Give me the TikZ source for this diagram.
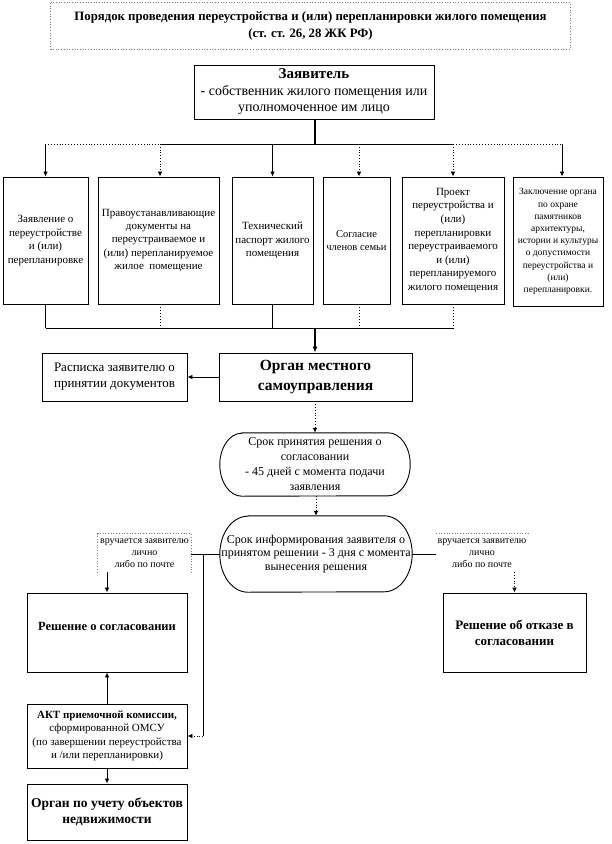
\documentclass[tikz,border=0pt]{standalone}
\usepackage{fontspec}
\setmainfont{Liberation Serif}
\usetikzlibrary{arrows.meta}
\newcommand{\fsz}[2]{\fontsize{#1}{#2}\selectfont}
\begin{document}
\begin{tikzpicture}[x=1pt,y=-1pt,
  box/.style={draw, line width=0.9pt, inner sep=0pt, align=center},
  plain/.style={inner sep=0pt, align=center},
  arr/.style={-{Latex[length=5pt,width=4.5pt]}, line width=0.8pt},
  thickarr/.style={-{Latex[length=6pt,width=5pt]}, line width=2pt},
  dotline/.style={dotted, line width=0.9pt},
  grayframe/.style={dotted, line width=0.7pt, draw=gray},
  lnk/.style={line width=0.8pt}
]
\useasboundingbox (0,0) rectangle (612,844);

% title
\node[plain, minimum width=519pt, minimum height=46pt, font=\fsz{12.8}{17}\bfseries] (title) at (310.5,26)
  {Порядок проведения переустройства и (или) перепланировки жилого помещения\\(ст. ст. 26, 28 ЖК РФ)};
\draw[grayframe] (title.north west) rectangle (title.south east);

% applicant
\node[box, minimum width=240pt, minimum height=54pt, font=\fsz{14}{16.5}] (zayav) at (314,92)
  {{\fsz{15}{16.5}\bfseries Заявитель}\\- собственник жилого помещения или\\уполномоченное им лицо};

% documents
\node[box, minimum width=85pt, minimum height=127pt, font=\fsz{11}{13.5}] (b1) at (45.5,240.5)
  {Заявление о\\переустройстве\\и (или)\\перепланировке};
\node[box, minimum width=121pt, minimum height=127pt, font=\fsz{11}{13.2}] (b2) at (158.5,240.5)
  {Правоустанавливающие\\документы на\\переустраиваемое и\\(или) перепланируемое\\жилое\ \ помещение};
\node[box, minimum width=81pt, minimum height=127pt, font=\fsz{11}{13.5}] (b3) at (272.5,240.5)
  {Технический\\паспорт жилого\\помещения};
\node[box, minimum width=67pt, minimum height=127pt, font=\fsz{10.5}{13.5}] (b4) at (356.5,240.5)
  {Согласие\\членов семьи};
\node[box, minimum width=102pt, minimum height=127pt, font=\fsz{11}{13.6}] (b5) at (453,240.5)
  {Проект\\переустройства и\\(или)\\перепланировки\\переустраиваемого\\и (или)\\перепланируемого\\жилого помещения};
\node[box, minimum width=90pt, minimum height=129pt, font=\fsz{9.5}{12.2}] (b6) at (558,241.5)
  {Заключение органа\\по охране\\памятников\\архитектуры,\\истории и культуры\\о допустимости\\переустройства и\\(или)\\перепланировки.};

% upper bus
\coordinate (top) at (315,144);
\draw[line width=2pt] (zayav.south -| top) -- (top);
\draw[dotline] (45,144) -- (160,144);
\draw[lnk] (160,144) -- (453,144);
\draw[dotline] (453,144) -- (562,144);
\draw[arr] (b1.north |- top) -- (b1.north);
\draw[arr, dotted] ([xshift=1.5pt]b2.north |- top) -- ([xshift=1.5pt]b2.north);
\draw[arr] (b3.north |- top) -- (b3.north);
\draw[arr, dotted] ([xshift=2.5pt]b4.north |- top) -- ([xshift=2.5pt]b4.north);
\draw[arr, dotted] (b5.north |- top) -- (b5.north);
\draw[arr] ([xshift=4pt]b6.north |- top) -- ([xshift=4pt]b6.north);

% lower bus
\coordinate (bot) at (315,328);
\draw[lnk] (b1.south) -- (b1.south |- bot);
\draw[dotline] ([xshift=1.5pt]b2.south) -- ([xshift=1.5pt]b2.south |- bot);
\draw[lnk] (b3.south) -- (b3.south |- bot);
\draw[dotline] ([xshift=2.5pt]b4.south) -- ([xshift=2.5pt]b4.south |- bot);
\draw[dotline] (b5.south) -- (b5.south |- bot);
\draw[lnk] (b1.south |- bot) -- (b5.south |- bot);

% local authority
\node[box, minimum width=193pt, minimum height=48pt, font=\fsz{15.5}{20}\bfseries] (organ) at (315.5,377)
  {Орган местного\\самоуправления};
\draw[thickarr] (bot) -- (organ.north -| bot);
\node[box, minimum width=145pt, minimum height=48pt, font=\fsz{13}{16}] (rasp) at (114.5,377)
  {Расписка заявителю о\\принятии документов};
\draw[arr] (organ.west) -- (rasp.east);

% term 1
\node[plain, minimum width=190pt, minimum height=63pt, font=\fsz{12}{15}] (s1) at (315,464.5)
  {Срок принятия решения о\\согласовании\\- 45 дней с момента подачи\\заявления};
\draw[line width=0.9pt] ([xshift=22pt]s1.north west) -- ([xshift=-22pt]s1.north east)
  arc[start angle=90, end angle=-90, x radius=22pt, y radius=31.5pt]
  -- ([xshift=22pt]s1.south west)
  arc[start angle=270, end angle=90, x radius=22pt, y radius=31.5pt] -- cycle;
\draw[arr, dotted] (organ.south -| s1.north) -- (s1.north);

% term 2
\node[plain, minimum width=192pt, minimum height=76pt, font=\fsz{12}{13.8}] (s2) at (316,554)
  {Срок информирования заявителя о\\принятом решении - 3 дня с момента\\вынесения решения};
\draw[line width=0.9pt] ([xshift=28pt]s2.north west) -- ([xshift=-28pt]s2.north east)
  arc[start angle=90, end angle=-90, x radius=28pt, y radius=38pt]
  -- ([xshift=28pt]s2.south west)
  arc[start angle=270, end angle=90, x radius=28pt, y radius=38pt] -- cycle;
\draw[arr, dotted] (s1.south -| s2.north) -- (s2.north);

% delivery labels
\node[plain, minimum width=93pt, minimum height=38pt, font=\fsz{10}{12}] (lblL) at (144.5,553)
  {вручается заявителю\\лично\\либо по почте};
\draw[grayframe] (lblL.south west) -- (lblL.north west) -- (lblL.north east) -- (lblL.south east);
\node[plain, minimum width=92pt, minimum height=38pt, font=\fsz{10}{12}] (lblR) at (482,553)
  {вручается заявителю\\лично\\либо по почте};
\draw[grayframe] (lblR.north west) -- (lblR.north east);

\draw[lnk] (s2.west) -- (lblL.east |- s2.west);
\draw[lnk] (s2.east) -- (lblR.west |- s2.east);

% decisions
\node[box, minimum width=160pt, minimum height=79pt] (resh) at (107,632.5) {};
\node[plain, font=\fsz{12.5}{15}\bfseries] (reshT) at (107,626) {Решение о согласовании};
\node[box, minimum width=143pt, minimum height=79pt, font=\fsz{13}{16}\bfseries] (otkaz) at (514.5,632.5)
  {Решение об отказе в\\согласовании};
\draw[arr] (lblL.south -| resh.north) -- (resh.north);
\draw[arr, dotted] (lblR.south -| otkaz.north) -- (otkaz.north);

% act and registry
\node[box, minimum width=160pt, minimum height=64pt, font=\fsz{11}{13.3}] (akt) at (107,736)
  {{\bfseries АКТ приемочной комиссии,}\\сформированной ОМСУ\\(по завершении переустройства\\и /или перепланировки)};
\node[box, minimum width=160pt, minimum height=56pt, font=\fsz{13.5}{16}\bfseries] (uchet) at (107,812)
  {Орган по учету объектов\\недвижимости};
\draw[arr] (akt.north) -- (resh.south);
\draw[arr] (akt.south) -- (uchet.north);

\coordinate (vline) at (203,554);
\draw[lnk] (vline) -- (vline |- akt.east);
\draw[arr, dotted] (vline |- akt.east) -- (akt.east);
\end{tikzpicture}
\end{document}
